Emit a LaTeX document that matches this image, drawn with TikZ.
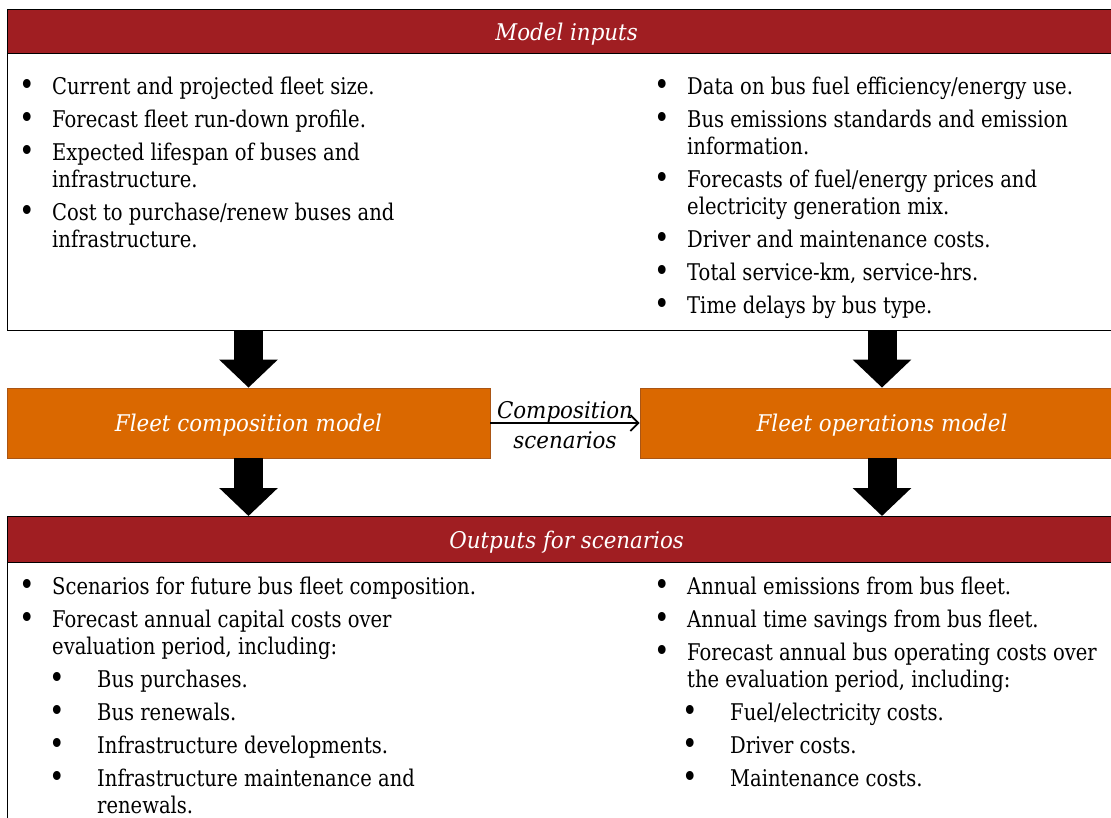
\documentclass[tikz,border=0pt]{standalone}
\usepackage{fontspec}
\setmainfont{DejaVu Serif}[FakeStretch=0.85, ItalicFeatures={FakeStretch=0.93}]
\usetikzlibrary{arrows.meta}
\definecolor{hdrred}{RGB}{160,30,34}
\definecolor{orng}{RGB}{218,104,0}
\definecolor{orngedge}{RGB}{170,85,20}
\newcommand\tline[4]{\node[txt] (#1) at (#2,#3) {#4};}
\newcommand\tbul[3]{\node[bul] (#1) at (#2,#3-6.5) {•};}
\begin{document}
\begin{tikzpicture}[x=1pt,y=-1pt,
  txt/.style={anchor=base west, inner sep=0pt, font=\fontsize{23}{27}\selectfont},
  bul/.style={anchor=center, inner sep=0pt, font=\fontsize{31}{31}\selectfont},
  panel/.style={draw=black, line width=1.2pt, fill=white, anchor=north west, inner sep=0pt},
  hdr/.style={draw=black, line width=1.2pt, fill=hdrred, text=white, font=\fontsize{23}{27}\selectfont\itshape, anchor=north west, inner sep=0pt, text depth=0pt},
  model/.style={draw=orngedge, line width=0.8pt, fill=orng, text=white, font=\fontsize{23}{27}\selectfont\itshape, inner sep=0pt, text depth=0pt},
  blockarrow/.style={line width=29pt, -{Triangle[width=57pt,length=28pt]}, black},
  flow/.style={line width=1.8pt, -{Straight Barb[length=8pt,width=16pt,line width=1.8pt]}, black}
]
\useasboundingbox (0,0) rectangle (1111,817);
\clip (0,0) rectangle (1111,817);

% top panel
\node[panel, minimum width=1118pt, minimum height=321pt] (inputs) at (7,9) {};
\node[hdr, minimum width=1118pt, minimum height=44pt] (inhdr) at (7,9) {Model inputs};

\tbul{b1}{27}{94}  \tline{t1}{52}{94}{Current and projected fleet size.}
\tbul{b2}{27}{127} \tline{t2}{52}{127}{Forecast fleet run-down profile.}
\tbul{b3}{27}{160} \tline{t3}{52}{160}{Expected lifespan of buses and}
                   \tline{t3b}{52}{187}{infrastructure.}
\tbul{b4}{27}{220} \tline{t4}{52}{220}{Cost to purchase/renew buses and}
                   \tline{t4b}{52}{247}{infrastructure.}

\tbul{r1}{662}{94}  \tline{s1}{687}{94}{Data on bus fuel efficiency/energy use.}
\tbul{r2}{662}{127} \tline{s2}{687}{127}{Bus emissions standards and emission}
                    \tline{s2b}{687}{154}{information.}
\tbul{r3}{662}{187} \tline{s3}{687}{187}{Forecasts of fuel/energy prices and}
                    \tline{s3b}{687}{214}{electricity generation mix.}
\tbul{r4}{662}{247} \tline{s4}{687}{247}{Driver and maintenance costs.}
\tbul{r5}{662}{280} \tline{s5}{687}{280}{Total service-km, service-hrs.}
\tbul{r6}{662}{313} \tline{s6}{687}{313}{Time delays by bus type.}

% model boxes
\node[model, minimum width=483pt, minimum height=70pt] (fleetcomp) at (248.5,423) {Fleet composition model};
\node[model, minimum width=484pt, minimum height=70pt] (fleetops) at (882,423) {Fleet operations model};

% bottom panel
\node[panel, minimum width=1118pt, minimum height=330pt] (outputs) at (7,516) {};
\node[hdr, minimum width=1118pt, minimum height=46pt] (outhdr) at (7,516) {Outputs for scenarios};

% arrows
\draw[blockarrow] (inputs.south -| fleetcomp) -- (fleetcomp.north);
\draw[blockarrow] (inputs.south -| fleetops) -- (fleetops.north);
\draw[blockarrow] (fleetcomp.south) -- (outhdr.north -| fleetcomp);
\draw[blockarrow] (fleetops.south) -- (outhdr.north -| fleetops);
\draw[flow] (fleetcomp.east) -- (fleetops.west);
\node[font=\fontsize{23}{30}\selectfont\itshape, align=center, inner sep=0pt] (complbl) at (565,425) {Composition\\scenarios};

% outputs text
\tbul{c1}{27}{594} \tline{u1}{52}{594}{Scenarios for future bus fleet composition.}
\tbul{c2}{27}{627} \tline{u2}{52}{627}{Forecast annual capital costs over}
                   \tline{u2b}{52}{654}{evaluation period, including:}
\tbul{c3}{57}{687} \tline{u3}{97}{687}{Bus purchases.}
\tbul{c4}{57}{720} \tline{u4}{97}{720}{Bus renewals.}
\tbul{c5}{57}{753} \tline{u5}{97}{753}{Infrastructure developments.}
\tbul{c6}{57}{786} \tline{u6}{97}{786}{Infrastructure maintenance and}
                   \tline{u6b}{97}{813}{renewals.}

\tbul{d1}{662}{594} \tline{v1}{687}{594}{Annual emissions from bus fleet.}
\tbul{d2}{662}{627} \tline{v2}{687}{627}{Annual time savings from bus fleet.}
\tbul{d3}{662}{660} \tline{v3}{687}{660}{Forecast annual bus operating costs over}
                    \tline{v3b}{687}{687}{the evaluation period, including:}
\tbul{d4}{690}{720} \tline{v4}{730}{720}{Fuel/electricity costs.}
\tbul{d5}{690}{753} \tline{v5}{730}{753}{Driver costs.}
\tbul{d6}{690}{786} \tline{v6}{730}{786}{Maintenance costs.}
\end{tikzpicture}
\end{document}
